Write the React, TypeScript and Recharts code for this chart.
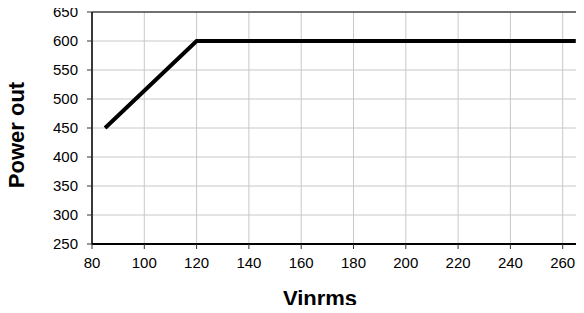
import React from 'react';
import { LineChart, Line, XAxis, YAxis, CartesianGrid, ReferenceLine, Label } from 'recharts';

const vinrms = [85, 120, 265];
const powerOut = [450, 600, 600];
const xTicks = [80, 100, 120, 140, 160, 180, 200, 220, 240, 260];
const yTicks = [250, 300, 350, 400, 450, 500, 550, 600, 650];
const titleText = 'Power Derating';
const xLabel = 'Vinrms';
const yLabel = 'Power out';

const data = vinrms.map((v, i) => ({ x: v, y: powerOut[i] }));

const FONT = 'Liberation Sans, Arial, sans-serif';

export default function App() {
  return (
    <div style={{ margin: -8, width: 584, height: 313, overflow: 'hidden', position: 'relative', background: '#fff' }}>
      <LineChart
        width={640}
        height={313}
        data={data}
        margin={{ top: 12, right: 25, left: 32, bottom: 39 }}
      >
        <CartesianGrid stroke="#c8c8c8" strokeWidth={1} />
        <XAxis
          type="number"
          dataKey="x"
          domain={[80, 280]}
          ticks={xTicks}
          interval={0}
          height={30}
          axisLine={{ stroke: '#000', strokeWidth: 2 }}
          tickLine={{ stroke: '#333' }}
          tickSize={5}
          tickMargin={8}
          tick={{ fill: '#000', fontSize: 15, fontFamily: FONT }}
        >
          <Label
            content={() => (
              <text x={320} y={306} textAnchor="middle" fontFamily={FONT} fontWeight="bold" fontSize={22} fill="#000">
                {xLabel}
              </text>
            )}
          />
        </XAxis>
        <YAxis
          type="number"
          dataKey="y"
          domain={[250, 650]}
          ticks={yTicks}
          interval={0}
          width={60}
          axisLine={{ stroke: '#000', strokeWidth: 1.5 }}
          tickLine={{ stroke: '#333' }}
          tickSize={5}
          tickMargin={9}
          tick={{ fill: '#000', fontSize: 15, fontFamily: FONT }}
        >
          <Label
            content={() => (
              <text
                x={24}
                y={135}
                transform="rotate(-90 24 135)"
                textAnchor="middle"
                fontFamily={FONT}
                fontWeight="bold"
                fontSize={22}
                fill="#000"
              >
                {yLabel}
              </text>
            )}
          />
        </YAxis>
        <ReferenceLine y={650} stroke="#000" strokeWidth={1} />
        <Line
          type="linear"
          dataKey="y"
          stroke="#000"
          strokeWidth={4}
          dot={false}
          activeDot={false}
          isAnimationActive={false}
        />
      </LineChart>
      <svg width={584} height={20} style={{ position: 'absolute', left: 0, top: 0 }}>
        <text x={373} y={0} textAnchor="end" fontFamily={FONT} fontWeight="bold" fontSize={20} fill="#000">
          {titleText}
        </text>
      </svg>
    </div>
  );
}
